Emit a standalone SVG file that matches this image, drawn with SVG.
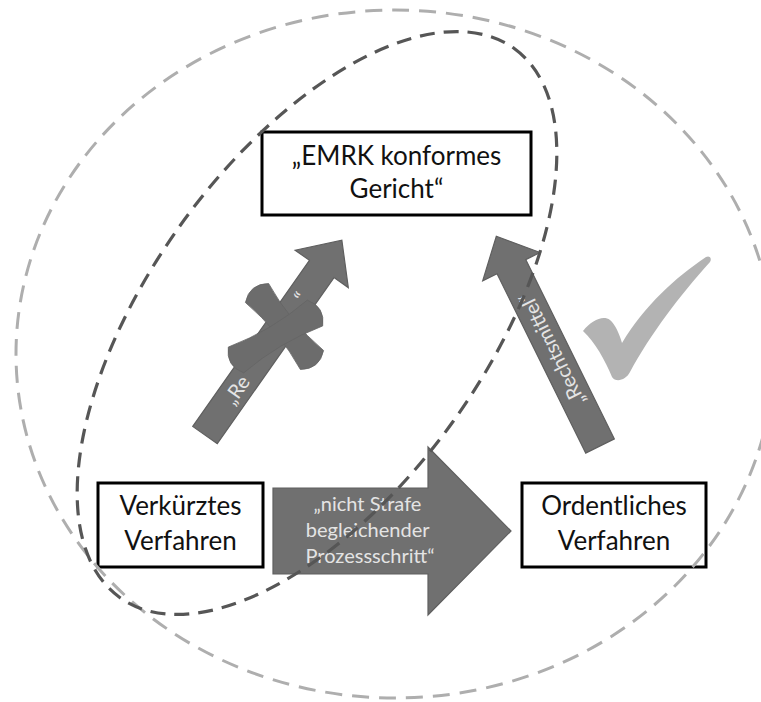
<svg xmlns="http://www.w3.org/2000/svg" width="761" height="702" viewBox="0 0 761 702">
  <style>
    .box { fill: #ffffff; stroke: #000000; stroke-width: 3; }
    .lbl { font-family: Lato, "Open Sans", sans-serif; font-size: 26px; fill: #111111; text-anchor: middle; }
    .arrow { fill: #707070; stroke: #5f5f5f; stroke-width: 1.2; }
    .alab { font-family: Lato, "Open Sans", sans-serif; fill: #e4e4e4; }
    .outer { fill: none; stroke: #aeaeae; stroke-width: 3; stroke-dasharray: 17 10; }
    .inner { fill: none; stroke: #565656; stroke-width: 3.2; stroke-dasharray: 15 9; }
  </style>

  <rect width="761" height="702" fill="#ffffff"/>

  <!-- block arrows between the three procedures -->
  <g id="connectors">
    <!-- shortened procedure -> court (crossed out) -->
    <g id="arrow-left" transform="translate(205,435) rotate(-54.9)">
      <path class="arrow" d="M0,-15 L203,-15 L203,-32.5 L238,0 L203,32.5 L203,15 L0,15 Z"/>
      <text class="alab" font-size="20" x="40" y="7">„Re</text>
      <text class="alab" font-size="20" x="164" y="7">“</text>
    </g>
    <!-- cross over the left arrow -->
    <g id="cross" fill="#6c6c6c" stroke="#646464" stroke-width="0.8">
      <path d="M245.4,302.5 Q249.4,283.7 268.6,283.5 Q289.9,322 323.6,350.5 Q319.6,369.3 300.4,369.5 Q279.1,331 245.4,302.5 Z"/>
      <path d="M228.3,347.1 Q272,330.4 307.3,300.1 Q325.3,306.9 322.7,325.9 Q279,342.6 243.7,372.9 Q225.7,366.1 228.3,347.1 Z"/>
    </g>

    <!-- ordinary procedure -> court -->
    <g id="arrow-right" transform="translate(600,446) rotate(-116.3)">
      <path class="arrow" d="M0,-16 L200,-16 L200,-32 L234,0 L200,32 L200,16 L0,16 Z"/>
      <text class="alab" font-size="20" x="108" y="7" text-anchor="middle">„Rechtsmittel“</text>
    </g>

    <!-- shortened -> ordinary procedure -->
    <g id="arrow-bottom">
      <path class="arrow" d="M273,488 L428,488 L428,447 L511,531 L428,615 L428,574 L273,574 Z"/>
      <text class="alab" font-size="20" text-anchor="middle">
        <tspan x="370" y="511">„nicht Strafe</tspan>
        <tspan x="370" y="537">begleichender</tspan>
        <tspan x="370" y="563">Prozessschritt“</tspan>
      </text>
    </g>
  </g>

  <!-- procedure boxes -->
  <g id="node-emrk">
    <rect class="box" x="262" y="132" width="269" height="83"/>
    <text class="lbl" x="396.5" y="165">„EMRK konformes</text>
    <text class="lbl" x="396.5" y="198">Gericht“</text>
  </g>
  <g id="node-verkuerzt">
    <rect class="box" x="98" y="483" width="165" height="84"/>
    <text class="lbl" x="180.5" y="515">Verkürztes</text>
    <text class="lbl" x="180.5" y="550">Verfahren</text>
  </g>
  <g id="node-ordentlich">
    <rect class="box" x="522" y="483" width="184" height="84"/>
    <text class="lbl" x="614" y="515">Ordentliches</text>
    <text class="lbl" x="614" y="550">Verfahren</text>
  </g>

  <!-- tick beside the ordinary route -->
  <path id="check" fill="#b3b3b3" d="M583,331 C592,320 603,315 610,320 C615,324 619,333 622,343 C645,305 675,278 706,257 C710,255 712,259 710,262 C680,295 650,335 630,372 C626,380 616,383 612,377 C605,360 595,342 583,331 Z"/>

  <!-- dashed boundaries -->
  <ellipse class="outer" cx="395" cy="354" rx="379" ry="344"/>
  <ellipse class="inner" cx="317" cy="323" rx="338" ry="168" transform="rotate(-54.3 317 323)"/>
</svg>
